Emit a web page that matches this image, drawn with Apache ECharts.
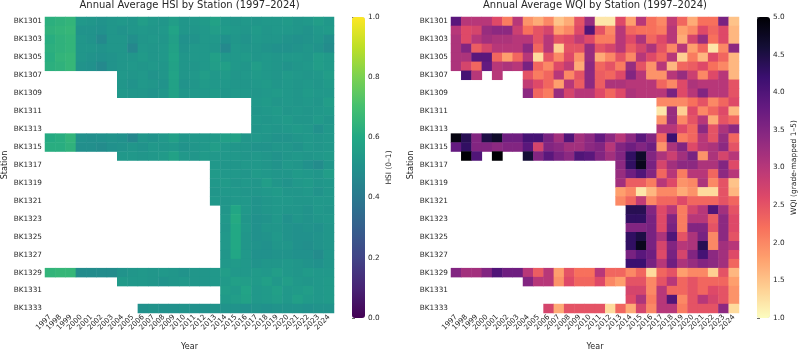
<!DOCTYPE html>
<html><head><meta charset="utf-8">
<script src="https://cdn.jsdelivr.net/npm/echarts@6/dist/echarts.min.js"></script>
<style>html,body{margin:0;padding:0;background:#fff}#c{width:800px;height:356px}</style>
</head><body><div id="c"></div>
<script>
const _ = null;
const years = ['1997','1998','1999','2000','2001','2002','2003','2004','2005','2006','2007','2008','2009','2010','2011','2012','2013','2014','2015','2016','2017','2018','2019','2020','2021','2022','2023','2024'];
const stations = ['BK1301','BK1302','BK1303','BK1304','BK1305','BK1306','BK1307','BK1308','BK1309','BK1310','BK1311','BK1312','BK1313','BK1314','BK1315','BK1316','BK1317','BK1318','BK1319','BK1320','BK1321','BK1322','BK1323','BK1324','BK1325','BK1326','BK1327','BK1328','BK1329','BK1330','BK1331','BK1332','BK1333'];
const hsiTicks = [0.0, 0.2, 0.4, 0.6, 0.8, 1.0];
const wqiTicks = [1.0, 1.5, 2.0, 2.5, 3.0, 3.5, 4.0, 4.5, 5.0];

// Annual average HSI, one row per station, one column per year
const hsiRows = [
[.63,.64,.65,.53,.52,.51,.52,.53,.52,.55,.53,.52,.55,.52,.53,.54,.57,.53,.52,.53,.52,.53,.53,.54,.52,.53,.55,.53],
[.64,.65,.66,.51,.51,.50,.52,.51,.52,.53,.52,.53,.58,.52,.52,.53,.55,.54,.53,.52,.54,.52,.53,.53,.52,.51,.53,.54],
[.62,.64,.65,.52,.51,.47,.52,.52,.49,.52,.53,.52,.56,.50,.51,.53,.53,.50,.52,.51,.53,.52,.52,.51,.50,.51,.52,.49],
[.63,.64,.65,.52,.52,.51,.52,.52,.46,.53,.52,.53,.57,.51,.53,.53,.52,.47,.53,.52,.52,.51,.50,.50,.51,.52,.51,.48],
[.62,.65,.66,.52,.51,.50,.51,.52,.52,.54,.52,.53,.58,.52,.53,.53,.56,.53,.53,.54,.52,.53,.52,.53,.53,.52,.55,.54],
[.63,.64,.66,.51,.50,.47,.51,.52,.53,.52,.53,.52,.57,.52,.52,.53,.55,.56,.53,.52,.55,.53,.52,.51,.52,.53,.55,.54],
[_,_,_,_,_,_,_,.53,.52,.53,.51,.52,.58,.52,.53,.55,.53,.54,.52,.53,.54,.53,.52,.54,.53,.52,.53,.55],
[_,_,_,_,_,_,_,.52,.51,.53,.52,.51,.57,.51,.52,.54,.53,.53,.52,.52,.53,.54,.52,.53,.52,.53,.52,.54],
[_,_,_,_,_,_,_,.53,.52,.52,.51,.52,.57,.52,.53,.53,.54,.52,.53,.53,.52,.53,.54,.53,.52,.54,.53,.53],
[_,_,_,_,_,_,_,_,_,_,_,_,_,_,_,_,_,_,_,_,.53,.54,.52,.53,.52,.53,.52,.55],
[_,_,_,_,_,_,_,_,_,_,_,_,_,_,_,_,_,_,_,_,.52,.53,.54,.52,.53,.52,.53,.54],
[_,_,_,_,_,_,_,_,_,_,_,_,_,_,_,_,_,_,_,_,.53,.52,.53,.54,.52,.52,.54,.52],
[_,_,_,_,_,_,_,_,_,_,_,_,_,_,_,_,_,_,_,_,.52,.53,.52,.53,.54,.53,.50,.53],
[.61,.62,.65,.50,.49,.50,.51,.50,.46,.52,.51,.53,.56,.52,.53,.53,.54,.56,.57,.52,.53,.52,.51,.51,.52,.53,.52,.53],
[.62,.62,.64,.49,.49,.48,.50,.51,.52,.51,.53,.52,.53,.51,.52,.53,.55,.53,.52,.52,.51,.51,.52,.52,.51,.53,.52,.53],
[_,_,_,_,_,_,_,.53,.53,.52,.53,.54,.57,.53,.52,.54,.53,.53,.53,.52,.53,.52,.51,.52,.53,.52,.53,.54],
[_,_,_,_,_,_,_,_,_,_,_,_,_,_,_,_,.53,.52,.52,.53,.53,.52,.51,.53,.52,.50,.48,.52],
[_,_,_,_,_,_,_,_,_,_,_,_,_,_,_,_,.54,.53,.53,.52,.54,.53,.52,.52,.54,.53,.52,.55],
[_,_,_,_,_,_,_,_,_,_,_,_,_,_,_,_,.53,.54,.52,.53,.52,.55,.52,.51,.53,.54,.52,.53],
[_,_,_,_,_,_,_,_,_,_,_,_,_,_,_,_,.52,.53,.53,.52,.52,.53,.54,.52,.52,.53,.51,.53],
[_,_,_,_,_,_,_,_,_,_,_,_,_,_,_,_,.53,.52,.53,.53,.51,.52,.53,.53,.52,.52,.53,.53],
[_,_,_,_,_,_,_,_,_,_,_,_,_,_,_,_,_,.52,.59,.53,.51,.52,.53,.52,.52,.51,.53,.52],
[_,_,_,_,_,_,_,_,_,_,_,_,_,_,_,_,_,.53,.61,.52,.50,.51,.53,.50,.52,.51,.52,.53],
[_,_,_,_,_,_,_,_,_,_,_,_,_,_,_,_,_,.52,.60,.53,.50,.52,.52,.51,.50,.51,.50,.52],
[_,_,_,_,_,_,_,_,_,_,_,_,_,_,_,_,_,.53,.60,.52,.50,.51,.53,.51,.50,.50,.51,.52],
[_,_,_,_,_,_,_,_,_,_,_,_,_,_,_,_,_,.53,.60,.52,.51,.50,.52,.52,.50,.49,.51,.52],
[_,_,_,_,_,_,_,_,_,_,_,_,_,_,_,_,_,.52,.59,.53,.50,.50,.51,.51,.50,.50,.48,.52],
[_,_,_,_,_,_,_,_,_,_,_,_,_,_,_,_,_,.53,.54,.53,.51,.52,.52,.53,.52,.51,.50,.52],
[.65,.66,.66,.48,.48,.48,.48,.51,.52,.53,.52,.53,.52,.51,.52,.52,.53,.55,.53,.53,.54,.53,.55,.53,.52,.54,.53,.53],
[_,_,_,_,_,_,_,.54,.53,.53,.52,.51,.52,.53,.52,.52,.53,.54,.56,.55,.54,.56,.53,.55,.53,.52,.53,.54],
[_,_,_,_,_,_,_,_,_,_,_,_,_,_,_,_,_,.55,.54,.58,.53,.54,.56,.53,.54,.55,.53,.54],
[_,_,_,_,_,_,_,_,_,_,_,_,_,_,_,_,_,.54,.55,.57,.53,.54,.55,.53,.56,.54,.53,.54],
[_,_,_,_,_,_,_,_,_,.50,.51,.50,.50,.51,.50,.50,.51,.51,.51,.50,.51,.50,.51,.51,.51,.50,.51,.51]
];

// Annual average WQI (grade-mapped 1-5), one row per station, one column per year
const wqiRows = [
[3.9,3.0,3.0,3.0,2.6,2.1,3.0,1.9,1.7,2.0,1.5,1.7,2.5,3.3,1.2,1.2,2.6,1.8,3.0,2.2,2.0,2.9,2.3,1.7,2.2,2.2,3.6,1.5],
[3.0,2.6,2.7,3.3,3.4,3.4,2.8,2.2,2.5,2.7,1.8,2.0,2.6,4.0,2.5,2.0,3.0,2.3,2.2,2.2,2.1,3.0,1.8,2.0,2.6,2.3,2.6,1.6],
[3.1,2.6,3.0,3.2,3.1,3.1,3.0,3.0,2.5,3.0,2.5,2.6,2.9,2.6,2.1,2.1,3.0,2.6,3.1,2.3,2.6,3.0,1.7,2.7,3.3,2.2,2.6,1.6],
[3.1,3.5,2.4,2.7,3.0,3.0,3.0,3.4,2.3,3.0,1.4,2.5,2.5,3.3,2.5,2.7,3.0,2.4,2.7,3.1,2.5,2.0,3.0,1.8,2.3,1.2,2.0,3.4],
[3.1,3.1,3.9,3.9,2.3,1.8,2.3,3.0,1.3,2.5,2.0,2.6,1.9,3.3,1.7,2.0,2.5,2.0,3.0,2.6,2.3,3.0,1.4,2.1,1.6,2.6,2.3,1.6],
[3.1,2.7,2.3,3.8,3.0,3.1,3.0,3.6,2.3,2.0,2.6,2.9,1.7,3.4,2.3,2.5,2.1,3.3,2.5,1.9,3.0,1.6,2.3,2.4,2.6,2.2,2.0,1.6],
[_,4.1,3.0,_,3.0,_,_,2.5,2.1,2.3,3.0,2.0,2.5,3.4,2.4,2.3,2.6,3.5,3.0,1.9,1.9,3.0,3.3,2.8,2.0,2.6,3.0,1.6],
[_,_,_,_,_,_,_,2.9,2.6,2.3,1.8,3.0,2.4,3.4,2.4,3.1,3.1,3.0,3.0,3.0,2.3,2.0,2.6,3.1,3.0,3.0,3.0,2.5],
[_,_,_,_,_,_,_,3.4,2.3,2.1,3.3,2.7,3.0,3.0,2.6,2.3,2.6,3.1,3.0,3.0,3.0,3.6,2.6,3.0,3.5,3.0,3.0,2.5],
[_,_,_,_,_,_,_,_,_,_,_,_,_,_,_,_,_,_,_,_,2.0,2.0,2.0,2.2,2.5,2.0,2.3,2.6],
[_,_,_,_,_,_,_,_,_,_,_,_,_,_,_,_,_,_,_,_,1.2,3.3,1.4,2.6,2.0,2.3,2.6,1.6],
[_,_,_,_,_,_,_,_,_,_,_,_,_,_,_,_,_,_,_,_,1.9,3.3,2.0,2.5,3.0,1.7,2.5,2.3],
[_,_,_,_,_,_,_,_,_,_,_,_,_,_,_,_,_,_,_,_,3.0,3.0,2.6,2.3,3.4,2.5,3.1,3.4],
[4.9,4.4,3.5,4.5,4.7,3.7,3.7,4.1,4.1,3.6,3.2,4.0,3.2,3.4,3.8,3.4,3.0,3.4,3.9,3.5,2.3,4.2,2.1,2.3,3.0,2.5,3.3,2.3],
[3.8,4.3,3.5,3.5,3.4,3.5,3.5,3.9,2.7,3.5,3.4,3.2,3.2,3.4,3.5,3.0,3.5,3.7,3.5,3.7,1.9,3.1,3.5,2.6,3.0,3.1,3.4,2.5],
[_,5.0,4.0,_,5.0,_,_,4.6,3.5,3.9,3.6,3.4,4.0,3.9,3.5,3.2,3.5,4.3,4.7,3.5,3.1,2.8,3.2,3.6,1.9,3.1,2.7,3.0],
[_,_,_,_,_,_,_,_,_,_,_,_,_,_,_,_,3.4,4.3,4.8,3.6,2.7,3.2,3.4,3.4,3.1,3.1,3.5,2.6],
[_,_,_,_,_,_,_,_,_,_,_,_,_,_,_,_,3.3,3.7,4.0,3.5,2.3,3.0,2.1,3.0,3.0,2.3,3.4,3.0],
[_,_,_,_,_,_,_,_,_,_,_,_,_,_,_,_,3.2,2.4,2.4,2.1,3.0,2.6,1.9,2.0,3.1,2.0,2.5,1.5],
[_,_,_,_,_,_,_,_,_,_,_,_,_,_,_,_,1.8,2.0,1.2,1.6,2.0,2.0,1.7,1.9,1.3,1.3,2.5,1.6],
[_,_,_,_,_,_,_,_,_,_,_,_,_,_,_,_,2.0,2.3,2.9,2.0,2.3,2.3,2.6,2.3,2.3,2.3,2.5,2.3],
[_,_,_,_,_,_,_,_,_,_,_,_,_,_,_,_,_,4.4,4.4,3.5,2.6,3.0,2.1,2.7,3.0,4.0,3.2,2.5],
[_,_,_,_,_,_,_,_,_,_,_,_,_,_,_,_,_,4.3,4.3,3.6,2.6,3.5,2.1,3.0,3.0,2.4,3.4,2.6],
[_,_,_,_,_,_,_,_,_,_,_,_,_,_,_,_,_,3.5,3.5,3.6,2.6,3.6,2.1,3.5,3.5,2.5,3.4,2.6],
[_,_,_,_,_,_,_,_,_,_,_,_,_,_,_,_,_,4.3,4.5,3.6,3.1,4.0,2.5,3.1,3.6,2.0,3.4,2.5],
[_,_,_,_,_,_,_,_,_,_,_,_,_,_,_,_,_,4.3,4.8,3.6,2.7,3.5,3.0,3.1,4.4,2.0,3.2,3.0],
[_,_,_,_,_,_,_,_,_,_,_,_,_,_,_,_,_,3.6,3.9,3.7,2.6,3.6,2.7,3.5,4.1,3.4,3.2,2.6],
[_,_,_,_,_,_,_,_,_,_,_,_,_,_,_,_,_,4.2,4.2,3.6,3.0,3.7,3.1,3.3,3.5,3.4,3.2,2.3],
[3.5,3.2,3.2,3.5,4.0,3.7,3.7,3.0,2.4,3.0,1.8,2.5,2.2,2.2,3.0,2.3,2.3,2.0,2.3,1.3,2.3,2.5,1.8,2.0,2.0,1.4,2.5,1.6],
[_,_,_,_,_,_,_,3.5,3.0,3.0,1.9,2.6,2.3,2.3,2.6,2.0,1.8,2.5,2.5,2.0,2.5,3.0,2.3,2.5,2.3,2.3,2.3,1.8],
[_,_,_,_,_,_,_,_,_,_,_,_,_,_,_,_,_,2.7,2.7,2.0,3.0,2.3,2.3,2.5,2.3,2.6,2.5,1.9],
[_,_,_,_,_,_,_,_,_,_,_,_,_,_,_,_,_,2.6,3.1,2.1,3.0,4.0,2.0,2.5,3.0,2.7,2.5,1.9],
[_,_,_,_,_,_,_,_,_,2.7,1.7,2.5,2.5,2.5,2.5,1.3,2.3,1.7,2.7,2.0,3.0,3.0,2.1,2.5,2.5,2.5,3.4,1.3]
];

function toCells(rows) {
  const out = [];
  rows.forEach((r, yi) => r.forEach((v, xi) => { if (v !== null) out.push([xi, yi, v]); }));
  return out;
}

const FONT = 'DejaVu Sans';
const TXT = '#262626';
const viridis = ['#440154','#482475','#414487','#355f8d','#2a788e','#21918c','#22a884','#44bf70','#7ad151','#bddf26','#fde725'];
const magmaR = ['#fcfdbf','#fecf92','#fe9f6d','#f7705c','#de4968','#b73779','#8c2981','#641a80','#3b0f70','#140e36','#000004'];

function catX(gi) {
  return {
    type: 'category', gridIndex: gi, data: years,
    axisLine: { show: false },
    axisTick: { alignWithLabel: true, interval: 0, length: 3, lineStyle: { color: '#444', width: 0.8 } },
    axisLabel: { rotate: 45, interval: 0, fontSize: 7.2, margin: 3, color: TXT, fontFamily: FONT },
    splitLine: { show: false }, splitArea: { show: false },
    name: 'Year', nameLocation: 'middle', nameGap: 30,
    nameTextStyle: { fontSize: 8, color: TXT, fontFamily: FONT }
  };
}
function catY(gi) {
  return {
    type: 'category', gridIndex: gi, data: stations, inverse: true,
    axisLine: { show: false },
    axisTick: { alignWithLabel: true, interval: 1, length: 3, lineStyle: { color: '#444', width: 0.8 } },
    axisLabel: { interval: 1, fontSize: 7.3, margin: 3, color: TXT, fontFamily: FONT },
    splitLine: { show: false }, splitArea: { show: false },
    name: 'Station', nameLocation: 'middle', nameGap: 36, nameRotate: 90,
    nameTextStyle: { fontSize: 8, color: TXT, fontFamily: FONT }
  };
}
function cbY(gi, ticks, name) {
  return {
    type: 'value', gridIndex: gi, position: 'right',
    min: ticks[0], max: ticks[ticks.length - 1], interval: ticks[1] - ticks[0],
    axisLine: { show: false },
    axisTick: { show: true, length: 3, lineStyle: { color: '#444', width: 0.8 } },
    axisLabel: { fontSize: 7.3, margin: 3, color: TXT, fontFamily: FONT, formatter: v => v.toFixed(1) },
    splitLine: { show: false },
    name: name, nameLocation: 'middle', nameGap: 20, nameRotate: 90,
    nameTextStyle: { fontSize: 7.5, color: TXT, fontFamily: FONT }
  };
}

const chart = echarts.init(document.getElementById('c'), null, { renderer: 'canvas' });
chart.setOption({
  animation: false,
  backgroundColor: '#ffffff',
  title: [
    { text: 'Annual Average HSI by Station (1997–2024)', left: 189.5, top: 0, textAlign: 'center', padding: 0,
      textStyle: { fontSize: 10, fontWeight: 'normal', color: TXT, fontFamily: FONT } },
    { text: 'Annual Average WQI by Station (1997–2024)', left: 595, top: 0, textAlign: 'center', padding: 0,
      textStyle: { fontSize: 10, fontWeight: 'normal', color: TXT, fontFamily: FONT } }
  ],
  grid: [
    { left: 45, top: 17, width: 289, height: 301 },
    { left: 451, top: 17, width: 288, height: 301 },
    { left: 352, top: 17, width: 13, height: 301 },
    { left: 757, top: 17, width: 13, height: 301 }
  ],
  xAxis: [
    catX(0), catX(1),
    { type: 'value', gridIndex: 2, show: false, min: 0, max: 1 },
    { type: 'value', gridIndex: 3, show: false, min: 0, max: 1 }
  ],
  yAxis: [
    catY(0), catY(1),
    cbY(2, hsiTicks, 'HSI (0–1)'),
    cbY(3, wqiTicks, 'WQI (grade-mapped 1–5)')
  ],
  visualMap: [
    { type: 'continuous', seriesIndex: 0, min: 0, max: 1, inRange: { color: viridis },
      left: 352, top: 17, itemWidth: 13, itemHeight: 301, calculable: false, padding: 0, orient: 'vertical', hoverLink: false },
    { type: 'continuous', seriesIndex: 1, min: 1, max: 5, inRange: { color: magmaR },
      left: 757, top: 17, itemWidth: 13, itemHeight: 301, calculable: false, padding: 0, orient: 'vertical', hoverLink: false }
  ],
  series: [
    { type: 'heatmap', xAxisIndex: 0, yAxisIndex: 0, data: toCells(hsiRows), progressive: 0, emphasis: { disabled: true } },
    { type: 'heatmap', xAxisIndex: 1, yAxisIndex: 1, data: toCells(wqiRows), progressive: 0, emphasis: { disabled: true } }
  ]
});
</script>
</body></html>
